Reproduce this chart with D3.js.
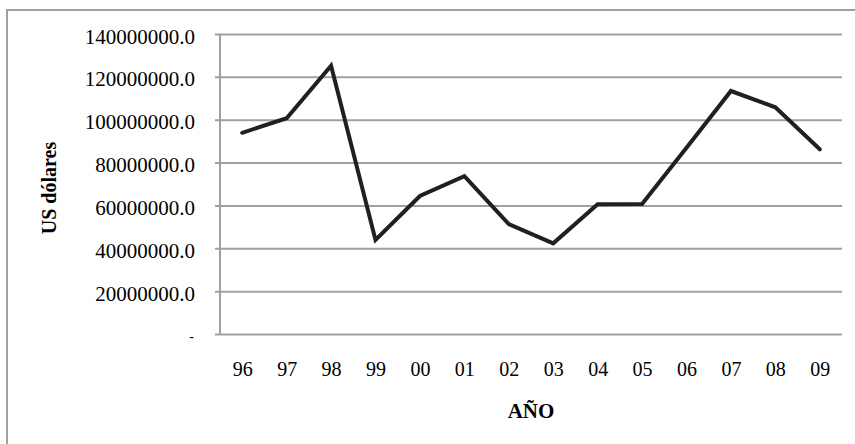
<!DOCTYPE html>
<html>
<head>
<meta charset="utf-8">
<script src="https://cdn.jsdelivr.net/npm/d3@7"></script>
<style>
  html, body { margin: 0; padding: 0; background: #fff; }
  svg { display: block; }
  text { font-family: "Liberation Serif", "DejaVu Serif", serif; fill: #000; }
</style>
</head>
<body>
<svg id="chart" width="855" height="444"></svg>
<script>
const years = ["96","97","98","99","00","01","02","03","04","05","06","07","08","09"];
const values = [93900000, 100700000, 125200000, 43900000, 64400000, 73700000, 51300000,
                42300000, 60500000, 60700000, 86900000, 113400000, 105800000, 86200000];
const yTicks = [0, 20000000, 40000000, 60000000, 80000000, 100000000, 120000000, 140000000];
const xTitle = "AÑO";
const yTitle = "US dólares";

(function () {
const svg = d3.select("#chart");
const W = 855, H = 444;
const mLeft = 220, mRight = 842, mTop = 34, mBottom = 334;

// outer border
svg.append("rect")
  .attr("x", 7).attr("y", 10)
  .attr("width", W + 10).attr("height", H + 10)
  .attr("fill", "none").attr("stroke", "#a0a0a0").attr("stroke-width", 2);

const x = d3.scalePoint().domain(years).range([mLeft, mRight]).padding(0.5);
const y = d3.scaleLinear().domain([0, 140000000]).range([mBottom, mTop]);

// gridlines via axis
const yAxis = d3.axisLeft(y)
  .tickValues(yTicks)
  .tickSize(-(mRight - mLeft))
  .tickFormat(d => d === 0 ? "-" : d3.format(".1f")(d));

const gy = svg.append("g").attr("transform", `translate(${mLeft},0)`).call(yAxis);
gy.select(".domain").remove();
gy.selectAll(".tick line")
  .attr("x1", -5).attr("x2", mRight - mLeft)
  .attr("stroke", "#a0a0a0").attr("stroke-width", 2);
gy.selectAll(".tick text")
  .attr("x", -25).attr("dy", null).attr("y", 9)
  .attr("text-anchor", "end")
  .style("font-family", '"Liberation Serif", serif')
  .style("font-size", "21px").attr("fill", "#000");
gy.selectAll(".tick").filter(d => d === 0).select("text")
  .attr("y", 6).style("font-size", "14px").attr("x", -26);

// vertical axis line
svg.append("line")
  .attr("x1", mLeft).attr("x2", mLeft).attr("y1", mTop).attr("y2", mBottom)
  .attr("stroke", "#a0a0a0").attr("stroke-width", 2);

// x axis labels
const xAxis = d3.axisBottom(x).tickSize(0).tickPadding(0);
const gx = svg.append("g").attr("transform", `translate(0,${mBottom})`).call(xAxis);
gx.select(".domain").remove();
gx.selectAll(".tick text")
  .attr("y", 42).attr("dy", null)
  .style("font-family", '"Liberation Serif", serif')
  .style("font-size", "20px").attr("fill", "#000");

// line
const line = d3.line()
  .x((d, i) => x(years[i]))
  .y(d => y(d));
svg.append("path")
  .datum(values)
  .attr("d", line)
  .attr("fill", "none")
  .attr("stroke", "#231f20")
  .attr("stroke-width", 4)
  .attr("stroke-linejoin", "miter")
  .attr("stroke-linecap", "round");

// titles
svg.append("text")
  .attr("x", (mLeft + mRight) / 2).attr("y", 418)
  .attr("text-anchor", "middle")
  .style("font-size", "21px").style("font-weight", "bold")
  .text(xTitle);

svg.append("text")
  .attr("transform", `translate(56,188) rotate(-90)`)
  .attr("text-anchor", "middle")
  .style("font-size", "20px").style("font-weight", "bold")
  .text(yTitle);
})();
</script>
</body>
</html>
